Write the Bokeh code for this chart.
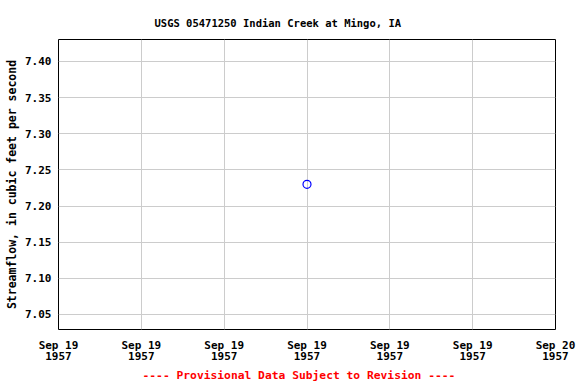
from datetime import datetime
from bokeh.plotting import figure
from bokeh.models import FixedTicker, Range1d, Title, ColumnDataSource
from bokeh.embed import file_html
from bokeh.resources import INLINE

# Data
times = [datetime(1957, 9, 19, 12, 0)]
flow = [7.23]
x_tick_times = [datetime(1957, 9, 19, h, 0) for h in (0, 4, 8, 12, 16, 20)] + [datetime(1957, 9, 20, 0, 0)]
x_tick_labels = ["Sep 19\n1957"] * 6 + ["Sep 20\n1957"]
y_ticks = [7.05, 7.10, 7.15, 7.20, 7.25, 7.30, 7.35, 7.40]

EPOCH = datetime(1970, 1, 1)
def ms(d):
    return (d - EPOCH).total_seconds() * 1000.0

FONT = "DejaVu Sans Mono"

p = figure(width=576, height=384, output_backend="svg", toolbar_location=None,
           x_axis_type="datetime",
           x_range=Range1d(ms(x_tick_times[0]), ms(x_tick_times[-1])),
           y_range=Range1d(7.0292, 7.4304),
           min_border_left=58, min_border_right=21, min_border_top=39, min_border_bottom=55)

src = ColumnDataSource(dict(t=[ms(t) for t in times], q=flow))
p.scatter("t", "q", source=src, size=8, fill_color=None, line_color="blue", line_width=1.2)

p.title.text = "USGS 05471250 Indian Creek at Mingo, IA"
p.title.align = "left"
p.title.offset = 96
p.title.standoff = 22
p.title.text_font = FONT
p.title.text_font_size = "10.5px"
p.title.text_font_style = "bold"
p.title.text_color = "black"

p.add_layout(Title(text="---- Provisional Data Subject to Revision ----", align="left", offset=84,
                   standoff=0, text_color="red", text_font=FONT, text_font_size="11.3px",
                   text_font_style="bold"), "below")

tick_ms = [ms(t) for t in x_tick_times]
p.xaxis.ticker = FixedTicker(ticks=tick_ms)
p.xaxis.major_label_overrides = {v: l for v, l in zip(tick_ms, x_tick_labels)}
p.yaxis.ticker = FixedTicker(ticks=y_ticks)
p.yaxis.major_label_overrides = {v: f"{v:.2f}" for v in y_ticks}
p.yaxis.axis_label = "Streamflow, in cubic feet per second"

for ax in (p.xaxis[0], p.yaxis[0]):
    ax.major_label_text_font = FONT
    ax.major_label_text_font_size = "11px"
    ax.major_label_text_font_style = "bold"
    ax.major_label_text_color = "black"
    ax.axis_label_text_font = FONT
    ax.axis_label_text_font_size = "11.5px"
    ax.axis_label_text_font_style = "bold"
    ax.axis_label_text_color = "black"
    ax.major_tick_line_color = None
    ax.minor_tick_line_color = None
    ax.major_tick_out = 0
    ax.major_tick_in = 0
    ax.minor_tick_out = 0
    ax.minor_tick_in = 0
    ax.axis_line_color = None

p.xaxis.major_label_standoff = 9
p.xaxis.major_label_text_line_height = 0.9
p.yaxis.major_label_standoff = 7
p.yaxis.axis_label_standoff = 3

p.grid.grid_line_color = "#cccccc"
p.grid.grid_line_width = 1
p.outline_line_color = "black"
p.outline_line_width = 1
p.background_fill_color = "white"
p.border_fill_color = "white"

open("out.html", "w").write(file_html(p, INLINE))
